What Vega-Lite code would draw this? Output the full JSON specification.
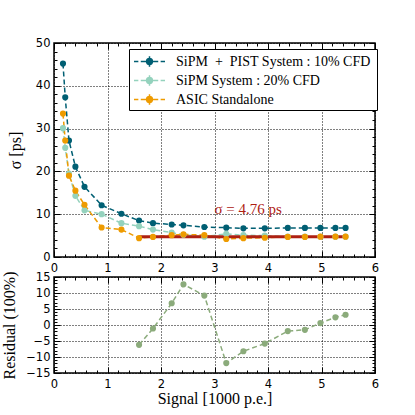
{
  "$schema": "https://vega.github.io/schema/vega-lite/v6.json",
  "autosize": {"type": "pad"},
  "padding": {"left": 0, "top": 36, "right": 0, "bottom": 0},
  "background": "white",
  "spacing": 20,
  "bounds": "flush",
  "config": {
    "view": {"stroke": "black", "strokeWidth": 1.5},
    "axis": {
      "labelFont": "DejaVu Sans", "labelFontSize": 11.5, "labelColor": "black",
      "titleFont": "Liberation Serif", "titleFontSize": 16, "titleFontWeight": "normal", "titleColor": "black",
      "domain": false, "tickColor": "black", "gridColor": "black", "gridDash": [1, 2], "gridWidth": 1, "gridOpacity": 1
    }
  },
  "datasets": {
    "main": [
      {"x": 0.168, "y": 45.2, "s": "SiPM + PIST System :  10% CFD"},
      {"x": 0.21, "y": 37.3, "s": "SiPM + PIST System :  10% CFD"},
      {"x": 0.28, "y": 27.2, "s": "SiPM + PIST System :  10% CFD"},
      {"x": 0.40, "y": 21.1, "s": "SiPM + PIST System :  10% CFD"},
      {"x": 0.57, "y": 16.4, "s": "SiPM + PIST System :  10% CFD"},
      {"x": 0.89, "y": 12.1, "s": "SiPM + PIST System :  10% CFD"},
      {"x": 1.26, "y": 10.1, "s": "SiPM + PIST System :  10% CFD"},
      {"x": 1.59, "y": 8.5, "s": "SiPM + PIST System :  10% CFD"},
      {"x": 1.85, "y": 7.9, "s": "SiPM + PIST System :  10% CFD"},
      {"x": 2.20, "y": 7.6, "s": "SiPM + PIST System :  10% CFD"},
      {"x": 2.42, "y": 7.4, "s": "SiPM + PIST System :  10% CFD"},
      {"x": 2.81, "y": 7.0, "s": "SiPM + PIST System :  10% CFD"},
      {"x": 3.22, "y": 6.85, "s": "SiPM + PIST System :  10% CFD"},
      {"x": 3.54, "y": 6.7, "s": "SiPM + PIST System :  10% CFD"},
      {"x": 3.94, "y": 6.7, "s": "SiPM + PIST System :  10% CFD"},
      {"x": 4.37, "y": 6.8, "s": "SiPM + PIST System :  10% CFD"},
      {"x": 4.69, "y": 6.8, "s": "SiPM + PIST System :  10% CFD"},
      {"x": 4.98, "y": 6.8, "s": "SiPM + PIST System :  10% CFD"},
      {"x": 5.26, "y": 6.8, "s": "SiPM + PIST System :  10% CFD"},
      {"x": 5.45, "y": 6.8, "s": "SiPM + PIST System :  10% CFD"},
      {"x": 0.168, "y": 30.1, "s": "SiPM System :  20% CFD"},
      {"x": 0.21, "y": 25.5, "s": "SiPM System :  20% CFD"},
      {"x": 0.28, "y": 19.5, "s": "SiPM System :  20% CFD"},
      {"x": 0.40, "y": 14.3, "s": "SiPM System :  20% CFD"},
      {"x": 0.57, "y": 10.9, "s": "SiPM System :  20% CFD"},
      {"x": 0.89, "y": 10.0, "s": "SiPM System :  20% CFD"},
      {"x": 1.26, "y": 7.9, "s": "SiPM System :  20% CFD"},
      {"x": 1.59, "y": 7.2, "s": "SiPM System :  20% CFD"},
      {"x": 1.85, "y": 6.4, "s": "SiPM System :  20% CFD"},
      {"x": 2.20, "y": 5.7, "s": "SiPM System :  20% CFD"},
      {"x": 2.42, "y": 5.2, "s": "SiPM System :  20% CFD"},
      {"x": 2.81, "y": 4.75, "s": "SiPM System :  20% CFD"},
      {"x": 3.22, "y": 5.4, "s": "SiPM System :  20% CFD"},
      {"x": 3.54, "y": 5.1, "s": "SiPM System :  20% CFD"},
      {"x": 3.94, "y": 5.0, "s": "SiPM System :  20% CFD"},
      {"x": 4.37, "y": 4.75, "s": "SiPM System :  20% CFD"},
      {"x": 4.69, "y": 4.75, "s": "SiPM System :  20% CFD"},
      {"x": 4.98, "y": 4.75, "s": "SiPM System :  20% CFD"},
      {"x": 5.26, "y": 4.75, "s": "SiPM System :  20% CFD"},
      {"x": 5.45, "y": 4.75, "s": "SiPM System :  20% CFD"},
      {"x": 0.168, "y": 33.5, "s": "ASIC Standalone"},
      {"x": 0.21, "y": 27.2, "s": "ASIC Standalone"},
      {"x": 0.28, "y": 19.0, "s": "ASIC Standalone"},
      {"x": 0.40, "y": 15.5, "s": "ASIC Standalone"},
      {"x": 0.57, "y": 12.2, "s": "ASIC Standalone"},
      {"x": 0.89, "y": 6.9, "s": "ASIC Standalone"},
      {"x": 1.26, "y": 6.4, "s": "ASIC Standalone"},
      {"x": 1.59, "y": 4.4, "s": "ASIC Standalone"},
      {"x": 1.85, "y": 4.7, "s": "ASIC Standalone"},
      {"x": 2.20, "y": 5.1, "s": "ASIC Standalone"},
      {"x": 2.42, "y": 5.3, "s": "ASIC Standalone"},
      {"x": 2.81, "y": 5.1, "s": "ASIC Standalone"},
      {"x": 3.22, "y": 4.2, "s": "ASIC Standalone"},
      {"x": 3.54, "y": 4.4, "s": "ASIC Standalone"},
      {"x": 3.94, "y": 4.5, "s": "ASIC Standalone"},
      {"x": 4.37, "y": 4.7, "s": "ASIC Standalone"},
      {"x": 4.69, "y": 4.7, "s": "ASIC Standalone"},
      {"x": 4.98, "y": 4.75, "s": "ASIC Standalone"},
      {"x": 5.26, "y": 4.75, "s": "ASIC Standalone"},
      {"x": 5.45, "y": 4.75, "s": "ASIC Standalone"}
    ],
    "fit": [{"x": 1.59, "y": 4.76}, {"x": 5.45, "y": 4.76}],
    "ann": [{"x": 3.0, "y": 10.0, "t": "σ = 4.76 ps"}],
    "resid": [
      {"x": 1.59, "r": -6.2}, {"x": 1.85, "r": -1.1}, {"x": 2.20, "r": 6.8}, {"x": 2.42, "r": 12.7},
      {"x": 2.81, "r": 9.2}, {"x": 3.22, "r": -11.9}, {"x": 3.54, "r": -8.2}, {"x": 3.94, "r": -5.8},
      {"x": 4.37, "r": -1.9}, {"x": 4.69, "r": -1.5}, {"x": 4.98, "r": 0.6}, {"x": 5.26, "r": 2.4}, {"x": 5.45, "r": 3.2}
    ]
  },
  "vconcat": [
    {
      "width": 321,
      "height": 214,
      "resolve": {"axis": {"x": "independent", "y": "independent"}},
      "layer": [
        {
          "data": {"name": "main"},
          "mark": {"type": "line", "strokeDash": [5, 3], "strokeWidth": 1.5},
          "encoding": {
            "x": {"field": "x", "type": "quantitative", "scale": {"domain": [0, 6], "nice": false},
              "axis": {"orient": "bottom", "values": [0, 1, 2, 3, 4, 5, 6], "ticks": false, "grid": true, "labelPadding": 5, "title": null, "labelFlush": false}},
            "y": {"field": "y", "type": "quantitative", "scale": {"domain": [0, 50], "nice": false},
              "axis": {"orient": "left", "values": [0, 10, 20, 30, 40, 50], "ticks": false, "grid": true, "labelPadding": 4, "title": "σ [ps]", "titlePadding": 12, "labelFlush": false}},
            "color": {"field": "s", "type": "nominal",
              "scale": {"domain": ["SiPM + PIST System :  10% CFD", "SiPM System :  20% CFD", "ASIC Standalone"], "range": ["#005f73", "#94d2bd", "#ee9b00"]},
              "legend": {"orient": "none", "legendX": 75, "legendY": 6, "title": null, "fillColor": "white", "strokeColor": "black", "padding": 2,
                "symbolType": "M-1.6,0H-1.15M-0.9,0H-0.4M0.4,0H0.9M1.15,0H1.6M0,-0.55V0.55M-0.55,0H0.55M0.3,0A0.3,0.3,0,1,1,-0.3,0A0.3,0.3,0,1,1,0.3,0Z",
                "symbolSize": 376, "symbolOffset": 8, "symbolStrokeWidth": 1.5, "labelFont": "Liberation Serif", "labelFontSize": 14, "labelColor": "black", "labelLimit": 400, "rowPadding": 0, "labelOffset": 16,
                "labelExpr": "replace(datum.label, 'SiPM + PIST', 'SiPM\u2002+\u2002PIST')"}}
          }
        },
        {
          "data": {"name": "fit"},
          "mark": {"type": "line", "color": "#ae2012", "strokeWidth": 3},
          "encoding": {
            "x": {"field": "x", "type": "quantitative", "scale": {"domain": [0, 6], "nice": false}, "axis": null},
            "y": {"field": "y", "type": "quantitative", "scale": {"domain": [0, 50], "nice": false}, "axis": null}
          }
        },
        {
          "data": {"name": "main"},
          "mark": {"type": "point", "filled": true, "opacity": 1, "size": 38},
          "encoding": {
            "x": {"field": "x", "type": "quantitative", "scale": {"domain": [0, 6], "nice": false}, "axis": null},
            "y": {"field": "y", "type": "quantitative", "scale": {"domain": [0, 50], "nice": false}, "axis": null},
            "color": {"field": "s", "type": "nominal"}
          }
        },
        {
          "data": {"name": "ann"},
          "mark": {"type": "text", "align": "left", "baseline": "alphabetic", "font": "Liberation Serif", "fontSize": 15, "color": "#ae2012"},
          "encoding": {
            "x": {"field": "x", "type": "quantitative", "scale": {"domain": [0, 6], "nice": false}, "axis": null},
            "y": {"field": "y", "type": "quantitative", "scale": {"domain": [0, 50], "nice": false}, "axis": null},
            "text": {"field": "t"}
          }
        },
        {
          "data": {"name": "fit"},
          "mark": {"type": "point", "opacity": 0},
          "encoding": {
            "x": {"field": "x", "type": "quantitative", "scale": {"domain": [0, 6], "nice": false},
              "axis": {"orient": "bottom", "values": [0, 1, 2, 3, 4, 5, 6], "labels": false, "grid": false, "tickSize": -6, "title": null}},
            "y": {"field": "y", "type": "quantitative", "scale": {"domain": [0, 50], "nice": false},
              "axis": {"orient": "left", "values": [0, 10, 20, 30, 40, 50], "labels": false, "grid": false, "tickSize": -6, "title": null}}
          }
        },
        {
          "data": {"name": "fit"},
          "mark": {"type": "point", "opacity": 0},
          "encoding": {
            "x": {"field": "x", "type": "quantitative", "scale": {"domain": [0, 6], "nice": false},
              "axis": {"orient": "bottom", "values": [0.2, 0.4, 0.6, 0.8, 1.2, 1.4, 1.6, 1.8, 2.2, 2.4, 2.6, 2.8, 3.2, 3.4, 3.6, 3.8, 4.2, 4.4, 4.6, 4.8, 5.2, 5.4, 5.6, 5.8], "labels": false, "grid": false, "tickSize": -3, "title": null}},
            "y": {"field": "y", "type": "quantitative", "scale": {"domain": [0, 50], "nice": false},
              "axis": {"orient": "left", "values": [2, 4, 6, 8, 12, 14, 16, 18, 22, 24, 26, 28, 32, 34, 36, 38, 42, 44, 46, 48], "labels": false, "grid": false, "tickSize": -3, "title": null}}
          }
        },
        {
          "data": {"name": "fit"},
          "mark": {"type": "point", "opacity": 0},
          "encoding": {
            "x": {"field": "x", "type": "quantitative", "scale": {"domain": [0, 6], "nice": false},
              "axis": {"orient": "top", "values": [0, 1, 2, 3, 4, 5, 6], "labels": false, "grid": false, "tickSize": -6, "title": null}},
            "y": {"field": "y", "type": "quantitative", "scale": {"domain": [0, 50], "nice": false},
              "axis": {"orient": "right", "values": [0, 10, 20, 30, 40, 50], "labels": false, "grid": false, "tickSize": -6, "title": null}}
          }
        },
        {
          "data": {"name": "fit"},
          "mark": {"type": "point", "opacity": 0},
          "encoding": {
            "x": {"field": "x", "type": "quantitative", "scale": {"domain": [0, 6], "nice": false},
              "axis": {"orient": "top", "values": [0.2, 0.4, 0.6, 0.8, 1.2, 1.4, 1.6, 1.8, 2.2, 2.4, 2.6, 2.8, 3.2, 3.4, 3.6, 3.8, 4.2, 4.4, 4.6, 4.8, 5.2, 5.4, 5.6, 5.8], "labels": false, "grid": false, "tickSize": -3, "title": null}},
            "y": {"field": "y", "type": "quantitative", "scale": {"domain": [0, 50], "nice": false},
              "axis": {"orient": "right", "values": [2, 4, 6, 8, 12, 14, 16, 18, 22, 24, 26, 28, 32, 34, 36, 38, 42, 44, 46, 48], "labels": false, "grid": false, "tickSize": -3, "title": null}}
          }
        }
      ]
    },
    {
      "width": 321,
      "height": 96,
      "data": {"name": "resid"},
      "resolve": {"axis": {"x": "independent", "y": "independent"}},
      "layer": [
        {
          "mark": {"type": "line", "strokeDash": [5, 3], "strokeWidth": 1.5, "color": "#8bab7b"},
          "encoding": {
            "x": {"field": "x", "type": "quantitative", "scale": {"domain": [0, 6], "nice": false},
              "axis": {"orient": "bottom", "values": [0, 1, 2, 3, 4, 5, 6], "ticks": false, "grid": true, "labelPadding": 5, "title": "Signal [1000 p.e.]", "titlePadding": 1, "labelFlush": false}},
            "y": {"field": "r", "type": "quantitative", "scale": {"domain": [-15, 15], "nice": false},
              "axis": {"orient": "left", "values": [-15, -10, -5, 0, 5, 10, 15], "ticks": false, "grid": true, "labelPadding": 4, "title": "Residual (100%)", "titlePadding": 8, "labelFlush": false}}
          }
        },
        {
          "mark": {"type": "point", "filled": true, "opacity": 1, "size": 38, "color": "#8bab7b"},
          "encoding": {
            "x": {"field": "x", "type": "quantitative", "scale": {"domain": [0, 6], "nice": false}, "axis": null},
            "y": {"field": "r", "type": "quantitative", "scale": {"domain": [-15, 15], "nice": false}, "axis": null}
          }
        },
        {
          "mark": {"type": "point", "opacity": 0},
          "encoding": {
            "x": {"field": "x", "type": "quantitative", "scale": {"domain": [0, 6], "nice": false},
              "axis": {"orient": "bottom", "values": [0, 1, 2, 3, 4, 5, 6], "labels": false, "grid": false, "tickSize": -6, "title": null}},
            "y": {"field": "r", "type": "quantitative", "scale": {"domain": [-15, 15], "nice": false},
              "axis": {"orient": "left", "values": [-15, -10, -5, 0, 5, 10, 15], "labels": false, "grid": false, "tickSize": -6, "title": null}}
          }
        },
        {
          "mark": {"type": "point", "opacity": 0},
          "encoding": {
            "x": {"field": "x", "type": "quantitative", "scale": {"domain": [0, 6], "nice": false},
              "axis": {"orient": "bottom", "values": [0.2, 0.4, 0.6, 0.8, 1.2, 1.4, 1.6, 1.8, 2.2, 2.4, 2.6, 2.8, 3.2, 3.4, 3.6, 3.8, 4.2, 4.4, 4.6, 4.8, 5.2, 5.4, 5.6, 5.8], "labels": false, "grid": false, "tickSize": -3, "title": null}},
            "y": {"field": "r", "type": "quantitative", "scale": {"domain": [-15, 15], "nice": false},
              "axis": {"orient": "left", "values": [-14, -13, -12, -11, -9, -8, -7, -6, -4, -3, -2, -1, 1, 2, 3, 4, 6, 7, 8, 9, 11, 12, 13, 14], "labels": false, "grid": false, "tickSize": -3, "title": null}}
          }
        },
        {
          "mark": {"type": "point", "opacity": 0},
          "encoding": {
            "x": {"field": "x", "type": "quantitative", "scale": {"domain": [0, 6], "nice": false},
              "axis": {"orient": "top", "values": [0, 1, 2, 3, 4, 5, 6], "labels": false, "grid": false, "tickSize": -6, "title": null}},
            "y": {"field": "r", "type": "quantitative", "scale": {"domain": [-15, 15], "nice": false},
              "axis": {"orient": "right", "values": [-15, -10, -5, 0, 5, 10, 15], "labels": false, "grid": false, "tickSize": -6, "title": null}}
          }
        },
        {
          "mark": {"type": "point", "opacity": 0},
          "encoding": {
            "x": {"field": "x", "type": "quantitative", "scale": {"domain": [0, 6], "nice": false},
              "axis": {"orient": "top", "values": [0.2, 0.4, 0.6, 0.8, 1.2, 1.4, 1.6, 1.8, 2.2, 2.4, 2.6, 2.8, 3.2, 3.4, 3.6, 3.8, 4.2, 4.4, 4.6, 4.8, 5.2, 5.4, 5.6, 5.8], "labels": false, "grid": false, "tickSize": -3, "title": null}},
            "y": {"field": "r", "type": "quantitative", "scale": {"domain": [-15, 15], "nice": false},
              "axis": {"orient": "right", "values": [-14, -13, -12, -11, -9, -8, -7, -6, -4, -3, -2, -1, 1, 2, 3, 4, 6, 7, 8, 9, 11, 12, 13, 14], "labels": false, "grid": false, "tickSize": -3, "title": null}}
          }
        }
      ]
    }
  ]
}
